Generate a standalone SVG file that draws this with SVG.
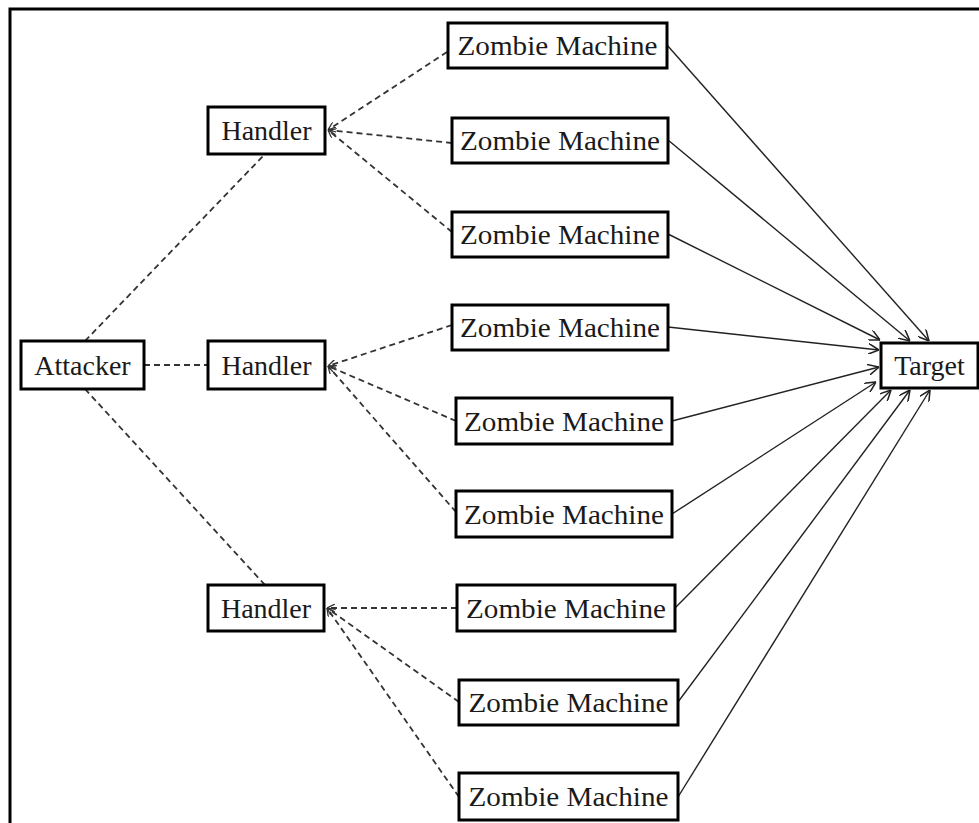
<svg xmlns="http://www.w3.org/2000/svg" width="979" height="823" viewBox="0 0 979 823">
  <defs>
    <style>
      .box { fill: #ffffff; stroke: #000000; stroke-width: 3; }
      .lbl { font-family: "Liberation Serif", "Times New Roman", serif; font-size: 28px; fill: #1a1a1a; text-anchor: middle; }
      .dash { fill: none; stroke: #333333; stroke-width: 1.8; stroke-dasharray: 6 4; }
      .solid { fill: none; stroke: #222222; stroke-width: 1.4; }
      .frame { fill: none; stroke: #000000; stroke-width: 3; }
    </style>
    <marker id="open-arrow" viewBox="0 0 10 10" refX="10" refY="5" markerWidth="11" markerHeight="11" markerUnits="userSpaceOnUse" orient="auto">
      <path d="M0,0 L10,5 L0,10" fill="none" stroke="#222222" stroke-width="1.4"/>
    </marker>
    <marker id="small-arrow" viewBox="0 0 10 10" refX="10" refY="5" markerWidth="8" markerHeight="8" markerUnits="userSpaceOnUse" orient="auto">
      <path d="M0,0 L10,5 L0,10" fill="none" stroke="#333333" stroke-width="1.6"/>
    </marker>
  </defs>

  <rect width="979" height="823" fill="#ffffff"/>
  <rect class="frame" x="10" y="9" width="1000" height="900"/>

  <g id="connectors">
    <!-- attacker to handlers -->
    <line class="dash" x1="85" y1="341" x2="265" y2="154"/>
    <line class="dash" x1="144" y1="365" x2="208" y2="365"/>
    <line class="dash" x1="85" y1="389" x2="265" y2="585"/>
    <!-- zombies reporting to handler 1 -->
    <line class="dash" x1="447" y1="52" x2="328" y2="130" marker-end="url(#small-arrow)"/>
    <line class="dash" x1="452" y1="143" x2="328" y2="130" marker-end="url(#small-arrow)"/>
    <line class="dash" x1="452" y1="232" x2="328" y2="130" marker-end="url(#small-arrow)"/>
    <!-- zombies reporting to handler 2 -->
    <line class="dash" x1="452" y1="325" x2="328" y2="366" marker-end="url(#small-arrow)"/>
    <line class="dash" x1="456" y1="421" x2="328" y2="366" marker-end="url(#small-arrow)"/>
    <line class="dash" x1="456" y1="512" x2="328" y2="366" marker-end="url(#small-arrow)"/>
    <!-- zombies reporting to handler 3 -->
    <line class="dash" x1="457" y1="608" x2="327" y2="608" marker-end="url(#small-arrow)"/>
    <line class="dash" x1="459" y1="702" x2="327" y2="608" marker-end="url(#small-arrow)"/>
    <line class="dash" x1="459" y1="797" x2="327" y2="608" marker-end="url(#small-arrow)"/>
    <!-- zombies attacking the target -->
    <line class="solid" x1="667" y1="45" x2="929" y2="341" marker-end="url(#open-arrow)"/>
    <line class="solid" x1="668" y1="140" x2="910" y2="341" marker-end="url(#open-arrow)"/>
    <line class="solid" x1="668" y1="234" x2="880" y2="340" marker-end="url(#open-arrow)"/>
    <line class="solid" x1="668" y1="327" x2="879" y2="350" marker-end="url(#open-arrow)"/>
    <line class="solid" x1="672" y1="421" x2="879" y2="367" marker-end="url(#open-arrow)"/>
    <line class="solid" x1="672" y1="514" x2="876" y2="382" marker-end="url(#open-arrow)"/>
    <line class="solid" x1="675" y1="608" x2="891" y2="390" marker-end="url(#open-arrow)"/>
    <line class="solid" x1="678" y1="702" x2="910" y2="390" marker-end="url(#open-arrow)"/>
    <line class="solid" x1="678" y1="797" x2="930" y2="390" marker-end="url(#open-arrow)"/>
  </g>

  <g id="attacker">
    <rect class="box" x="21" y="341" width="123" height="48"/>
    <text class="lbl" x="82.5" y="374.5">Attacker</text>
  </g>

  <g id="handler-1">
    <rect class="box" x="208" y="107" width="117" height="47"/>
    <text class="lbl" x="266.5" y="139.5">Handler</text>
  </g>
  <g id="handler-2">
    <rect class="box" x="208" y="341" width="117" height="48"/>
    <text class="lbl" x="266.5" y="374.5">Handler</text>
  </g>
  <g id="handler-3">
    <rect class="box" x="208" y="585" width="116" height="46"/>
    <text class="lbl" x="266" y="617.5">Handler</text>
  </g>

  <g id="zombie-1">
    <rect class="box" x="448" y="23" width="219" height="45"/>
    <text class="lbl" x="557.5" y="55" textLength="200" lengthAdjust="spacingAndGlyphs">Zombie Machine</text>
  </g>
  <g id="zombie-2">
    <rect class="box" x="452" y="118" width="216" height="45"/>
    <text class="lbl" x="560" y="150" textLength="200" lengthAdjust="spacingAndGlyphs">Zombie Machine</text>
  </g>
  <g id="zombie-3">
    <rect class="box" x="452" y="212" width="216" height="45"/>
    <text class="lbl" x="560" y="244" textLength="200" lengthAdjust="spacingAndGlyphs">Zombie Machine</text>
  </g>
  <g id="zombie-4">
    <rect class="box" x="452" y="305" width="216" height="45"/>
    <text class="lbl" x="560" y="337" textLength="200" lengthAdjust="spacingAndGlyphs">Zombie Machine</text>
  </g>
  <g id="zombie-5">
    <rect class="box" x="456" y="398" width="216" height="46"/>
    <text class="lbl" x="564" y="430.5" textLength="200" lengthAdjust="spacingAndGlyphs">Zombie Machine</text>
  </g>
  <g id="zombie-6">
    <rect class="box" x="456" y="491" width="216" height="46"/>
    <text class="lbl" x="564" y="523.5" textLength="200" lengthAdjust="spacingAndGlyphs">Zombie Machine</text>
  </g>
  <g id="zombie-7">
    <rect class="box" x="457" y="585" width="218" height="46"/>
    <text class="lbl" x="566" y="617.5" textLength="200" lengthAdjust="spacingAndGlyphs">Zombie Machine</text>
  </g>
  <g id="zombie-8">
    <rect class="box" x="459" y="680" width="219" height="45"/>
    <text class="lbl" x="568.5" y="712" textLength="200" lengthAdjust="spacingAndGlyphs">Zombie Machine</text>
  </g>
  <g id="zombie-9">
    <rect class="box" x="459" y="773" width="219" height="47"/>
    <text class="lbl" x="568.5" y="806" textLength="200" lengthAdjust="spacingAndGlyphs">Zombie Machine</text>
  </g>

  <g id="target">
    <rect class="box" x="881" y="343" width="97" height="45"/>
    <text class="lbl" x="929.5" y="375">Target</text>
  </g>
</svg>
